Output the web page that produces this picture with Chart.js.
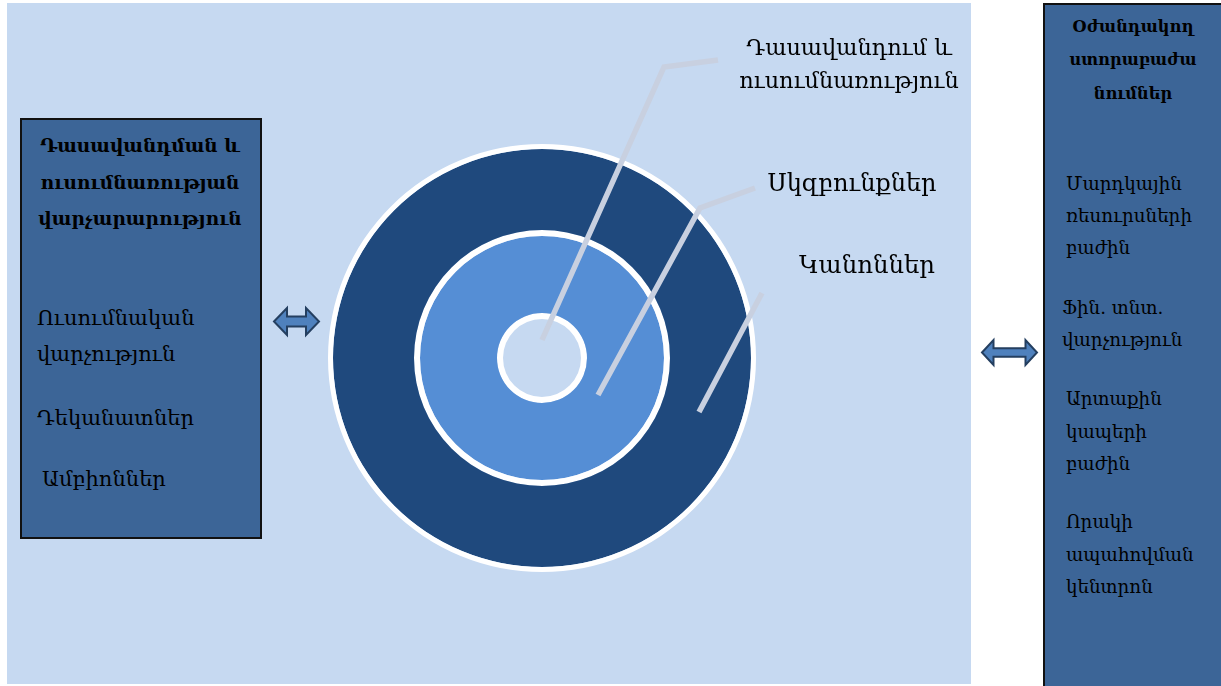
<!DOCTYPE html>
<html><head><meta charset="utf-8">
<script src="https://cdn.jsdelivr.net/npm/chart.js@4.4.1/dist/chart.umd.min.js"></script>
<style>
html,body{margin:0;padding:0;background:#fff;width:1221px;height:686px;overflow:hidden;font-family:"DejaVu Serif",serif;}
#panel{position:absolute;left:7px;top:3px;width:964px;height:681px;background:#c6d9f1;}
#c{position:absolute;left:0;top:0;}
.box{position:absolute;background:#3c6597;border:2px solid #111;box-sizing:border-box;}
.t{position:absolute;white-space:nowrap;color:#000;line-height:1;}
</style>
</head><body>
<div id="panel"></div>
<canvas id="c" width="1221" height="686"></canvas>
<div class="box" style="left:20px;top:118px;width:242px;height:421px;"></div>
<div class="box" style="left:1043px;top:3px;width:190px;height:700px;"></div>
<div id="texts"></div>
<script>
// ---- data ----
const ringLabels = ["", "Կանոններ", "", "Սկզբունքներ", "", "Դասավանդում և ուսումնառություն"];
const ringValues = [1, 1, 1, 1, 1, 1];
const ringWeights = [5, 81, 6, 77, 6, 39];
const leftTitle = ["Դասավանդման և", "ուսումնառության", "վարչարարություն"];
const leftItems = ["Ուսումնական", "վարչություն", "Դեկանատներ", "Ամբիոններ"];
const rightTitle = ["Օժանդակող", "ստորաբաժա", "նումներ"];
const rightItems = ["Մարդկային", "ռեսուրսների", "բաժին", "Ֆին. տնտ.", "վարչություն", "Արտաքին", "կապերի", "բաժին", "Որակի", "ապահովման", "կենտրոն"];
const ringTextLines = ["Դասավանդում և", "ուսումնառություն", "Սկզբունքներ", "Կանոններ"];

// ---- styles / layout ----
const ringColors = ["#ffffff", "#1f497d", "#ffffff", "#558ed5", "#ffffff", "#c6d9f1"];
const textLayout = [];
leftTitle.forEach((s,i)=>textLayout.push({s, x:140, y:[147,184,220][i], size:18.6, bold:true, align:'center'}));
leftItems.forEach((s,i)=>textLayout.push({s, x:[37,37,37,42][i], y:[320,356,420,481][i], size:21}));
rightTitle.forEach((s,i)=>textLayout.push({s, x:1133, y:[28,61,95][i], size:16.2, bold:true, align:'center'}));
rightItems.forEach((s,i)=>textLayout.push({s, x:[1066,1066,1066,1062,1062,1066,1066,1066,1066,1066,1066][i], y:[185,217,249,309,341,400,433,465,523,556,588][i], size:18.3}));
ringTextLines.forEach((s,i)=>textLayout.push({s, x:[849,849,852,867][i], y:[48,81,184,266][i], size:[22.4,22.4,24,24.4][i], align:'center'}));

const tc = document.getElementById('texts');
textLayout.forEach(o=>{
  const d = document.createElement('div');
  d.className = 't';
  d.textContent = o.s;
  d.style.fontSize = o.size + 'px';
  d.style.fontWeight = o.bold ? 'bold' : 'normal';
  d.style.left = o.x + 'px';
  d.style.top = o.y + 'px';
  d.style.transform = (o.align === 'center' ? 'translateX(-50%) ' : '') + 'translateY(-55%)';
  tc.appendChild(d);
});

const leaders = [
  [[0,-18],[122,-291],[176,-298]],
  [[56,37],[158,-150],[213,-170]],
  [[157,54],[220,-65]]
];
const arrows = [
  {x0:274, x1:319, cy:321.5, H:27, s:10, h:13},
  {x0:982, x1:1037, cy:352.5, H:25, s:8.5, h:11.5}
];

const overlay = {
  id: 'overlay',
  afterDatasetsDraw(chart) {
    const ctx = chart.ctx;
    const arc = chart.getDatasetMeta(0).data[0];
    const cx = arc.x, cy = arc.y;
    ctx.save();
    ctx.strokeStyle = '#c8d0e0';
    ctx.lineWidth = 5.5;
    ctx.lineCap = 'butt';
    ctx.lineJoin = 'miter';
    leaders.forEach(pts=>{
      ctx.beginPath();
      pts.forEach((p,i)=> i ? ctx.lineTo(cx+p[0], cy+p[1]) : ctx.moveTo(cx+p[0], cy+p[1]));
      ctx.stroke();
    });
    arrows.forEach(a=>{
      ctx.beginPath();
      ctx.moveTo(a.x0, a.cy);
      ctx.lineTo(a.x0+a.h, a.cy-a.H/2);
      ctx.lineTo(a.x0+a.h, a.cy-a.s/2);
      ctx.lineTo(a.x1-a.h, a.cy-a.s/2);
      ctx.lineTo(a.x1-a.h, a.cy-a.H/2);
      ctx.lineTo(a.x1, a.cy);
      ctx.lineTo(a.x1-a.h, a.cy+a.H/2);
      ctx.lineTo(a.x1-a.h, a.cy+a.s/2);
      ctx.lineTo(a.x0+a.h, a.cy+a.s/2);
      ctx.lineTo(a.x0+a.h, a.cy+a.H/2);
      ctx.closePath();
      ctx.fillStyle = '#4f81bd';
      ctx.fill();
      ctx.strokeStyle = '#243f60';
      ctx.lineWidth = 2;
      ctx.lineJoin = 'miter';
      ctx.stroke();
    });
    ctx.restore();
  }
};

new Chart(document.getElementById('c'), {
  type: 'doughnut',
  data: {
    labels: ['ring'],
    datasets: ringWeights.map((w,i)=>({
      label: ringLabels[i], data: [ringValues[i]], weight: w,
      backgroundColor: ringColors[i], borderWidth: 0, hoverOffset: 0
    }))
  },
  options: {
    responsive: false, animation: false, cutout: 0, devicePixelRatio: 1,
    layout: {padding: {left: 328, right: 465, top: 144, bottom: 114}},
    plugins: {legend: {display: false}, tooltip: {enabled: false}},
    events: []
  },
  plugins: [overlay]
});
</script>
</body></html>
